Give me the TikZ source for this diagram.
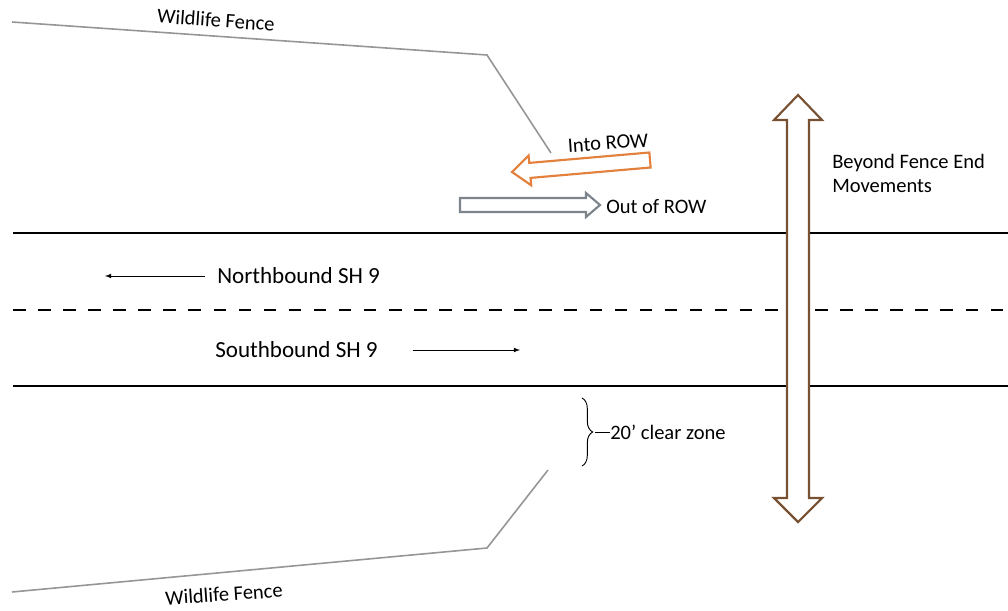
\documentclass[tikz,border=0pt]{standalone}
\usepackage{fontspec}
\setmainfont{Carlito}
\usetikzlibrary{decorations.pathreplacing}

\definecolor{fencegray}{RGB}{150,150,150}
\definecolor{rowor}{RGB}{226,128,60}
\definecolor{rowgray}{RGB}{125,132,140}
\definecolor{moveb}{RGB}{120,80,50}

\begin{document}
\begin{tikzpicture}[x=0.75pt,y=-0.75pt]
\tikzstyle{small}=[inner sep=0pt, font=\fontsize{15.4}{18}\selectfont]
\tikzstyle{big}=[inner sep=0pt, font=\fontsize{17.3}{20}\selectfont]
\tikzstyle{fence}=[draw=fencegray, line width=1.2pt]
\tikzstyle{road}=[draw=black, line width=2.2pt]
\tikzstyle{connect}=[-latex, line width=0.6pt]
\tikzstyle{block}=[fill=white, line width=1.6pt, line join=miter]
  \useasboundingbox (0,0) rectangle (1008,611);
  % wildlife fences
  \draw[fence] (12,22) -- (487,55) -- (551,153);
  \draw[fence] (12,592) -- (487,548) -- (548,470);
  \node[small, rotate=-4] (fN) at (216,20) {Wildlife Fence};
  \node[small, rotate=4] (fS) at (224,594) {Wildlife Fence};
  % road
  \draw[road] (13,233) -- (1008,233);
  \draw[road, dash pattern=on 9.4pt off 9.4pt] (13,310) -- (1008,310);
  \draw[road] (13,386) -- (1008,386);
  \node[big, anchor=west] (nb) at (217,276) {Northbound SH 9};
  \node[big, anchor=west] (sb) at (215,350) {Southbound SH 9};
  \coordinate (nbend) at (105,276);
  \coordinate (sbend) at (520,350);
  \draw[connect] ([xshift=-9pt]nb.west) -- (nbend);
  \draw[connect] ([xshift=26pt]sb.east) -- (sbend);
  % out of / into ROW
  \draw[block, draw=rowgray] (460,198) -- (586,198) -- (586,193) -- (600,205) -- (586,217) -- (586,212) -- (460,212) -- cycle;
  \node[small, anchor=west] (out) at (606,207) {Out of ROW};
  \draw[block, draw=rowor] (649.35,152.5) -- (529.25,162.9) -- (528.6,155.5) -- (512,172) -- (531.2,185.3) -- (530.55,177.9) -- (650.65,167.5) -- cycle;
  \node[small, rotate=4] (into) at (608,143) {Into ROW};
  % beyond fence end
  \draw[block, draw=moveb] (798,95) -- (822,120) -- (809,120) -- (809,498) -- (822,498) -- (798,522) -- (774,498) -- (787,498) -- (787,120) -- (774,120) -- cycle;
  \node[small, anchor=west, align=left] (beyond) at (832,173) {Beyond Fence End\\Movements};
  % clear zone
  \draw[decorate, decoration={brace, amplitude=8pt}, line width=0.7pt] (582,398) -- (582,466);
  \coordinate (tip) at (595,432);
  \node[small, anchor=west] (clear) at (610,432) {20' clear zone};
  \draw[line width=0.6pt] (tip) -- (clear.west);
\end{tikzpicture}
\end{document}
